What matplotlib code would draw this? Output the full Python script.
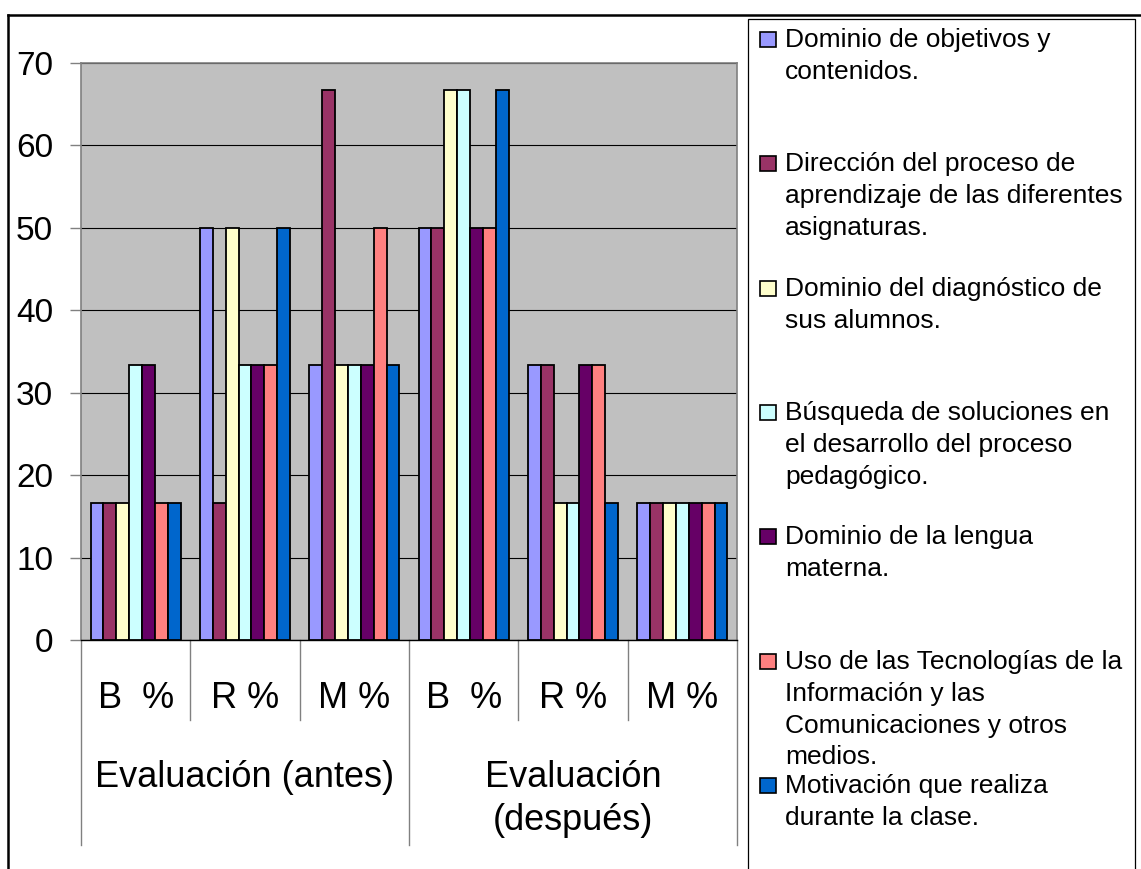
import numpy as np
import matplotlib
matplotlib.use("Agg")
import matplotlib.pyplot as plt
import matplotlib.transforms as mtransforms
from matplotlib.patches import Rectangle
from matplotlib.lines import Line2D

plt.rcParams['font.family'] = ['Liberation Sans', 'DejaVu Sans']

# --- data -------------------------------------------------------------
categories = ["B  %", "R %", "M %", "B  %", "R %", "M %"]
group_labels = [["Evaluación (antes)"], ["Evaluación", "(después)"]]

series_names = [
    ["Dominio de objetivos y", "contenidos."],
    ["Dirección del proceso de", "aprendizaje de las diferentes", "asignaturas."],
    ["Dominio del diagnóstico de", "sus alumnos."],
    ["Búsqueda de soluciones en", "el desarrollo del proceso", "pedagógico."],
    ["Dominio de la lengua", "materna."],
    ["Uso de las Tecnologías de la", "Información y las", "Comunicaciones y otros", "medios."],
    ["Motivación que realiza", "durante la clase."],
]

dominio_objetivos = [16.67, 50, 33.33, 50, 33.33, 16.67]
direccion_proceso = [16.67, 16.67, 66.67, 50, 33.33, 16.67]
dominio_diagnostico = [16.67, 50, 33.33, 66.67, 16.67, 16.67]
busqueda_soluciones = [33.33, 33.33, 33.33, 66.67, 16.67, 16.67]
lengua_materna = [33.33, 33.33, 33.33, 50, 33.33, 16.67]
uso_tic = [16.67, 33.33, 50, 50, 33.33, 16.67]
motivacion = [16.67, 50, 33.33, 66.67, 16.67, 16.67]

series_values = [dominio_objetivos, direccion_proceso, dominio_diagnostico,
                 busqueda_soluciones, lengua_materna, uso_tic, motivacion]
colors = ["#9999FF", "#993366", "#FFFFCC", "#CCFFFF", "#660066", "#FF8080", "#0066CC"]

# --- layout helpers (pixel -> figure fraction) --------------------------
W, H = 1141, 869
def fx(px):
    return px / W
def fy(py):
    return 1 - py / H

fig = plt.figure(figsize=(W / 100, H / 100), dpi=100)
fig.patch.set_facecolor("white")

ax_left, ax_right, ax_top, ax_bottom = 81, 737, 63, 640
ax_h = ax_bottom - ax_top
ax = fig.add_axes([fx(ax_left), fy(ax_bottom), fx(ax_right - ax_left), ax_h / H])
ax.set_facecolor("#C0C0C0")

x = np.arange(len(categories))
bar_w = 0.118
n = len(series_values)
for i, (vals, col) in enumerate(zip(series_values, colors)):
    ax.bar(x + (i - (n - 1) / 2) * bar_w, vals, width=bar_w, color=col,
           edgecolor="black", linewidth=1.3, zorder=3)

ax.set_xlim(-0.5, len(categories) - 0.5)
ax.set_ylim(0, 70)
ax.set_yticks(np.arange(0, 71, 10))
ax.tick_params(axis="y", labelsize=24, length=8, width=1, color="#808080", pad=12)
ax.tick_params(axis="x", bottom=False, labelbottom=False)
ax.yaxis.grid(True, color="black", linewidth=0.8)
ax.set_axisbelow(True)
for side in ["left", "top", "right"]:
    ax.spines[side].set_color("#808080")
    ax.spines[side].set_linewidth(1.2)
ax.spines["bottom"].set_color("black")
ax.spines["bottom"].set_linewidth(1.0)

# multi-level category axis
trans = mtransforms.blended_transform_factory(ax.transData, ax.transAxes)
for k in range(len(categories) + 1):
    xs = k - 0.5
    depth = 205 if k % 3 == 0 else 80
    ax.plot([xs, xs], [0, -depth / ax_h], transform=trans, color="#808080",
            linewidth=1.0, clip_on=False)
for i, cat in enumerate(categories):
    ax.text(i, -68 / ax_h, cat, transform=trans, ha="center", va="baseline",
            fontsize=26)
for g, lines in enumerate(group_labels):
    cx = g * 3 + 1
    for j, line in enumerate(lines):
        ax.text(cx, -(147 + 43 * j) / ax_h, line, transform=trans, ha="center",
                va="baseline", fontsize=26)

# chart border (top and left visible in crop)
fig.add_artist(Line2D([fx(8), fx(8)], [fy(15), 0], color="black", linewidth=1.8))
fig.add_artist(Line2D([fx(8), 1], [fy(15), fy(15)], color="black", linewidth=1.8))

# legend box
fig.add_artist(Rectangle((fx(748), -0.02), fx(1135) - fx(748), fy(19) + 0.02,
                         transform=fig.transFigure, fill=False,
                         edgecolor="black", linewidth=0.9))
for i, (lines, col) in enumerate(zip(series_names, colors)):
    base = 47 + 124.3 * i
    fig.add_artist(Rectangle((fx(760), fy(base)), fx(776) - fx(760), 15 / H,
                             transform=fig.transFigure, facecolor=col,
                             edgecolor="black", linewidth=1.2))
    for j, line in enumerate(lines):
        fig.text(fx(785), fy(base + 32 * j), line, ha="left", va="baseline",
                 fontsize=19)

fig.savefig("out.png", dpi=100)
